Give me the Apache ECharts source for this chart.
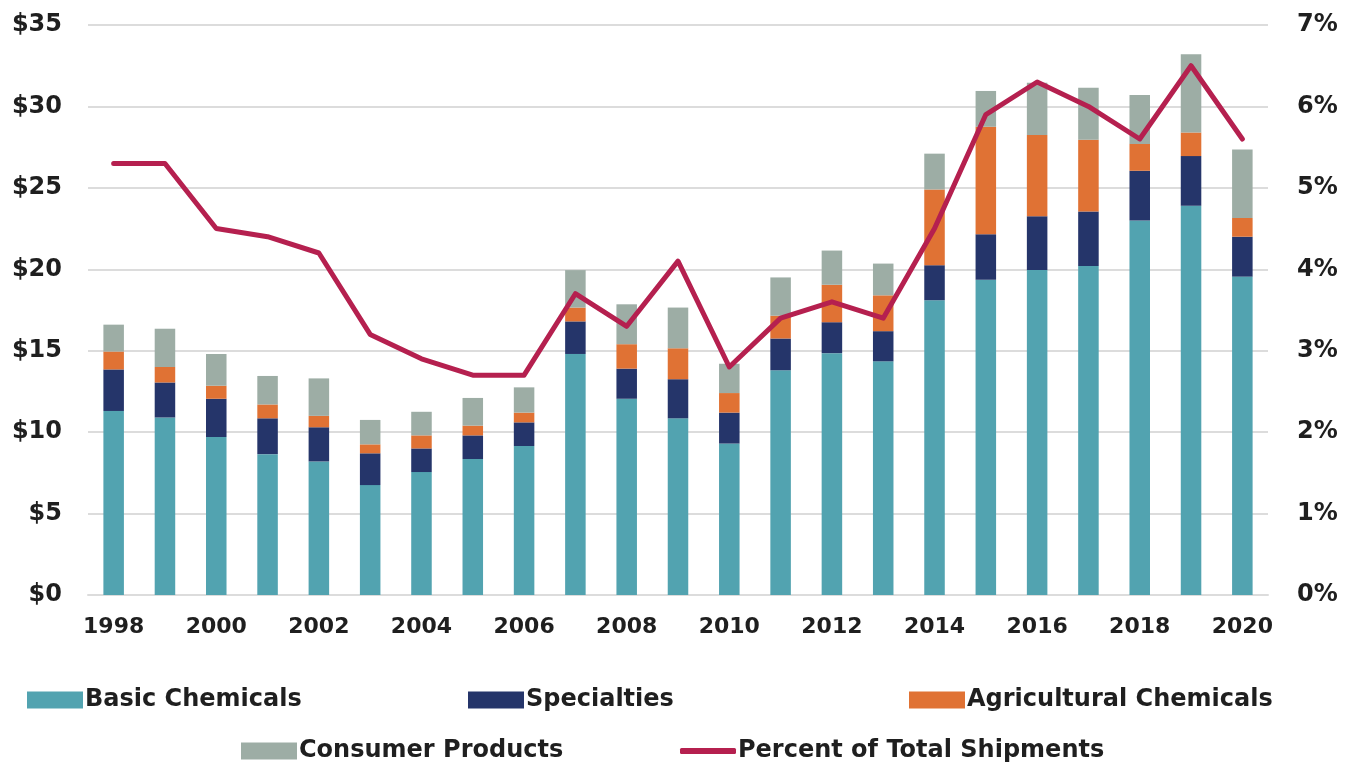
<!DOCTYPE html>
<html>
<head>
<meta charset="utf-8">
<script src="https://cdn.jsdelivr.net/npm/echarts@6/dist/echarts.min.js"></script>
<style>
  html, body { margin : 0; padding : 0; background : #fff; }
  #chart { width : 1346px; height : 766px; }
</style>
</head>
<body>
<div id="chart"></div>
<script>
var years = ['1998', '1999', '2000', '2001', '2002', '2003', '2004', '2005', '2006', '2007', '2008', '2009',
    '2010', '2011', '2012', '2013', '2014', '2015', '2016', '2017', '2018', '2019', '2020'];
// billions of dollars, stacked
var basicChemicals = [11.3, 10.9, 9.7, 8.65, 8.2, 6.75, 7.55, 8.35, 9.15, 14.8, 12.05, 10.85,
    9.3, 13.8, 14.85, 14.35, 18.1, 19.35, 19.95, 20.2, 23.0, 23.9, 19.55];
var specialties = [2.55, 2.15, 2.35, 2.2, 2.1, 1.95, 1.45, 1.45, 1.45, 2.0, 1.85, 2.4,
    1.9, 1.95, 1.9, 1.85, 2.15, 2.8, 3.3, 3.35, 3.05, 3.05, 2.45];
var agriculturalChemicals = [1.1, 0.95, 0.8, 0.85, 0.7, 0.55, 0.8, 0.6, 0.6, 0.85, 1.5, 1.9,
    1.2, 1.4, 2.3, 2.2, 4.65, 6.6, 5.0, 4.4, 1.65, 1.45, 1.15];
var consumerProducts = [1.65, 2.35, 1.95, 1.75, 2.3, 1.5, 1.45, 1.7, 1.55, 2.3, 2.45, 2.5,
    1.8, 2.35, 2.1, 1.95, 2.2, 2.2, 3.2, 3.2, 3.0, 4.8, 4.2];
// percent of total shipments (right axis)
var percentOfTotal = [5.3, 5.3, 4.5, 4.4, 4.2, 3.2, 2.9, 2.7, 2.7, 3.7, 3.3, 4.1,
    2.8, 3.4, 3.6, 3.4, 4.5, 5.9, 6.3, 6.0, 5.6, 6.5, 5.6];
var leftTicks = { min : 0, max : 35, interval : 5 };
var rightTicks = { min : 0, max : 7, interval : 1 };

var fontFamily = 'DejaVu Sans';
var textColor = '#1f1f1f';
var gridColor = '#dcdcdc';

function barSeries(name, data, color) {
  return {
    name : name,
    type : 'bar',
    stack : 'total',
    barWidth : '40%',
    data : data,
    itemStyle : { color : color },
    emphasis : { disabled : true }
  };
}

function legendItem(name, left, top, icon, itemHeight) {
  return {
    data : [name],
    left : left,
    top : top,
    padding : 0,
    icon : icon || 'rect',
    itemWidth : 56,
    itemHeight : itemHeight || 17,
    selectedMode : false,
    textStyle : { fontFamily : fontFamily, fontWeight : 'bold', fontSize : 24, color : textColor, padding : [0, 0, 0, -3] }
  };
}

var myChart = echarts.init(document.getElementById('chart'), null, { renderer : 'canvas' });
myChart.setOption({
  animation : false,
  backgroundColor : '#fff',
  grid : { left : 88, right : 78, top : 25, bottom : 171 },
  legend : [
    legendItem('Basic Chemicals', 27, 688),
    legendItem('Specialties', 468, 688),
    legendItem('Agricultural Chemicals', 909, 688),
    legendItem('Consumer Products', 241, 739),
    legendItem('Percent of Total Shipments', 680, 739, 'roundRect', 6)
  ],
  xAxis : {
    type : 'category',
    data : years,
    axisTick : { show : false },
    axisLine : { lineStyle : { color : gridColor, width : 2 } },
    axisLabel : {
      interval : 1,
      margin : 21,
      fontFamily : fontFamily,
      fontWeight : 'bold',
      fontSize : 22,
      color : textColor
    }
  },
  yAxis : [{
    type : 'value',
    min : leftTicks.min,
    max : leftTicks.max,
    interval : leftTicks.interval,
    axisLine : { show : false },
    splitLine : { lineStyle : { color : gridColor, width : 2 } },
    axisLabel : {
      margin : 26,
      fontFamily : fontFamily,
      fontWeight : 'bold',
      fontSize : 24,
      color : textColor,
      padding : [4, 0, 0, 0],
      formatter : '${value}'
    }
  }, {
    type : 'value',
    position : 'right',
    min : rightTicks.min,
    max : rightTicks.max,
    interval : rightTicks.interval,
    axisLine : { show : false },
    splitLine : { show : false },
    axisLabel : {
      margin : 29,
      fontFamily : fontFamily,
      fontWeight : 'bold',
      fontSize : 24,
      color : textColor,
      padding : [4, 0, 0, 0],
      formatter : '{value}%'
    }
  }],
  series : [
    barSeries('Basic Chemicals', basicChemicals, '#52a3b0'),
    barSeries('Specialties', specialties, '#25356a'),
    barSeries('Agricultural Chemicals', agriculturalChemicals, '#e07234'),
    barSeries('Consumer Products', consumerProducts, '#9dada5'),
    {
      name : 'Percent of Total Shipments',
      type : 'line',
      yAxisIndex : 1,
      data : percentOfTotal,
      symbol : 'none',
      color : '#b5204f',
      lineStyle : { color : '#b5204f', width : 5, cap : 'round', join : 'round' },
      emphasis : { disabled : true },
      z : 5
    }
  ]
});
</script>
</body>
</html>
